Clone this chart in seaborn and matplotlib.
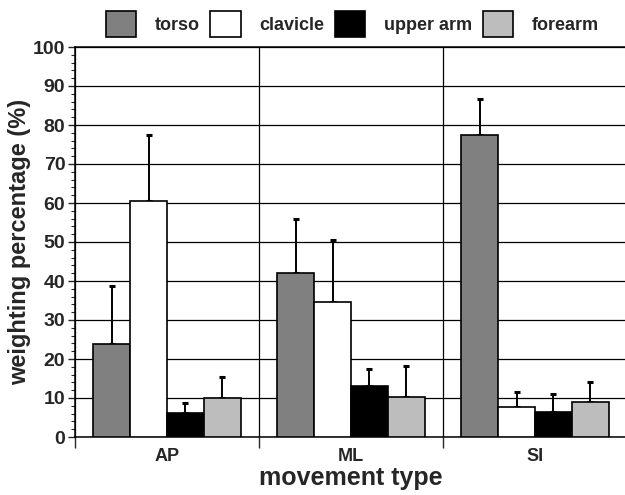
import numpy as np
import pandas as pd
import matplotlib
matplotlib.use("Agg")
import matplotlib.pyplot as plt
import seaborn as sns
from matplotlib.patches import Patch
from matplotlib.ticker import MultipleLocator, FixedLocator, NullFormatter

# ---- data ----
movements = ["AP", "ML", "SI"]
segments = ["torso", "clavicle", "upper arm", "forearm"]
torso = [23.8, 42.1, 77.4]
clavicle = [60.5, 34.6, 7.8]
upper_arm = [6.1, 13.1, 6.5]
forearm = [9.9, 10.3, 8.9]
torso_err = [14.9, 13.9, 9.2]
clavicle_err = [16.9, 16.0, 3.8]
upper_arm_err = [2.7, 4.4, 4.5]
forearm_err = [5.6, 8.0, 5.1]

values = [torso, clavicle, upper_arm, forearm]
errors = [torso_err, clavicle_err, upper_arm_err, forearm_err]
colors = ["#808080", "#ffffff", "#000000", "#bdbdbd"]

rows = []
for seg, vals in zip(segments, values):
    for mv, v in zip(movements, vals):
        rows.append({"movement": mv, "segment": seg, "value": v})
df = pd.DataFrame(rows)

sns.set_style("white")
plt.rcParams["font.family"] = ["Liberation Sans", "DejaVu Sans"]
plt.rcParams["font.weight"] = "bold"
plt.rcParams["axes.labelweight"] = "bold"

fig = plt.figure(figsize=(6.25, 4.95), dpi=100)
ax = fig.add_axes([75 / 625, 1 - 437 / 495, 552 / 625, 390 / 495])

sns.barplot(data=df, x="movement", y="value", hue="segment",
            order=movements, hue_order=segments,
            palette=dict(zip(segments, colors)),
            edgecolor="black", linewidth=1.2, width=0.8,
            errorbar=None, legend=False, ax=ax, zorder=3)

for cont, err in zip(ax.containers, errors):
    xs = [b.get_x() + b.get_width() / 2 for b in cont]
    ys = [b.get_height() for b in cont]
    ax.errorbar(xs, ys, yerr=[np.zeros(len(err)), err], fmt="none",
                ecolor="black", elinewidth=1.4, capsize=2.5, capthick=2.2,
                zorder=2)

ax.set_ylim(0, 100)
ax.set_xlim(-0.5, 2.5)
ax.yaxis.set_major_locator(MultipleLocator(10))
ax.yaxis.set_minor_locator(MultipleLocator(2))
ax.tick_params(axis="y", which="major", direction="out", length=5, width=1,
               labelsize=14, pad=2, left=True)
ax.tick_params(axis="y", which="minor", direction="out", length=3, width=0.8,
               left=True)
for lab in ax.get_yticklabels():
    lab.set_fontweight("bold")

# x: boundaries as major ticks, categories as minor tick labels
ax.xaxis.set_major_locator(FixedLocator([-0.5, 0.5, 1.5]))
ax.xaxis.set_major_formatter(NullFormatter())
ax.xaxis.set_minor_locator(FixedLocator([0, 1, 2]))
ax.set_xticklabels(movements, minor=True)
ax.tick_params(axis="x", which="major", direction="out", length=8, width=1,
               bottom=True)
ax.tick_params(axis="x", which="minor", length=0, labelsize=13, pad=8)
for lab in ax.get_xticklabels(minor=True):
    lab.set_fontweight("bold")

ax.grid(True, axis="y", color="black", linewidth=0.9, zorder=0)
ax.grid(True, axis="x", which="major", color="black", linewidth=0.9, zorder=0)
ax.set_axisbelow(True)

for s in ["left", "bottom", "top"]:
    ax.spines[s].set_visible(True)
    ax.spines[s].set_color("black")
    ax.spines[s].set_linewidth(1.1)
ax.spines["right"].set_visible(False)

ax.set_xlabel("movement type", fontsize=18, fontweight="bold", labelpad=1)
ax.set_ylabel("weighting percentage (%)", fontsize=17, fontweight="bold",
              labelpad=1)

handles = [Patch(facecolor=c, edgecolor="black", linewidth=1.2) for c in colors]
fig.legend(handles, segments, ncol=4, loc="center",
           bbox_to_anchor=(352 / 625, 1 - 24 / 495), frameon=False,
           prop={"size": 13, "weight": "bold"}, handlelength=1.7,
           handleheight=1.9, handletextpad=1.0, columnspacing=0.6,
           borderaxespad=0)

fig.savefig("out.png", dpi=100)
